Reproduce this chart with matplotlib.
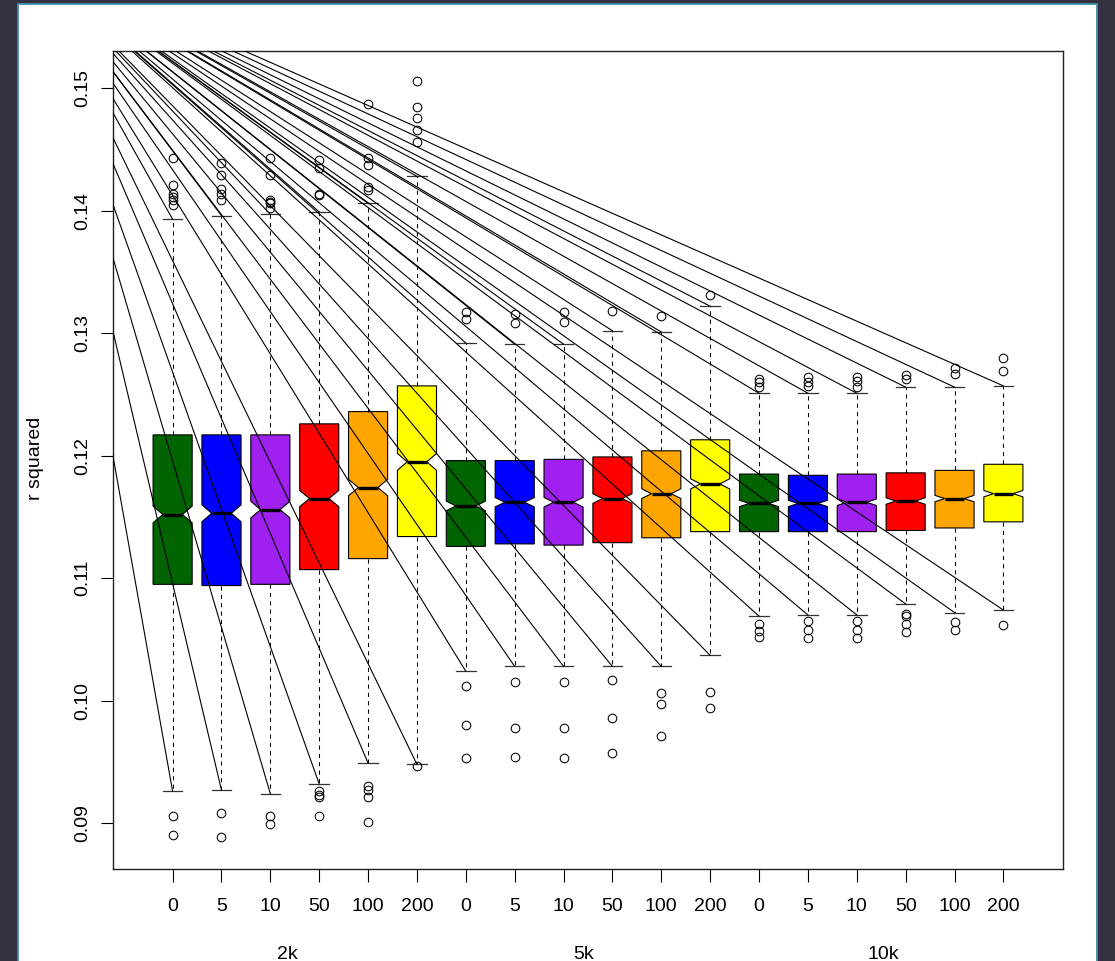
#!/usr/bin/env python

import numpy as np
import matplotlib
matplotlib.use("Agg")
import matplotlib.pyplot as plt
from matplotlib.patches import Rectangle

plt.rcParams['font.family'] = ['Liberation Sans', 'DejaVu Sans']

# r squared summaries for each run, 2k / 5k / 10k groups of six
sizes = ["2k", "5k", "10k"]
params = ["0", "5", "10", "50", "100", "200"]
colours = ["darkgreen", "blue", "#A020F0", "red", "orange", "yellow"]

upper_whisker = [0.1393, 0.1396, 0.1397, 0.1399, 0.1406, 0.1428,
                 0.1292, 0.1291, 0.1291, 0.1302, 0.1301, 0.1322,
                 0.1251, 0.1251, 0.1251, 0.1256, 0.1256, 0.1257]
q3 = [0.1217, 0.1217, 0.1217, 0.1226, 0.1236, 0.1257,
      0.1196, 0.1196, 0.1197, 0.1199, 0.1204, 0.1213,
      0.1185, 0.1184, 0.1185, 0.1186, 0.1188, 0.1193]
medians = [0.1152, 0.1153, 0.1156, 0.1165, 0.1174, 0.1195,
           0.1159, 0.1162, 0.1162, 0.1165, 0.1169, 0.1177,
           0.1161, 0.1161, 0.1162, 0.1163, 0.1165, 0.1169]
q1 = [0.1095, 0.1094, 0.1095, 0.1107, 0.1116, 0.1134,
      0.1126, 0.1128, 0.1127, 0.1129, 0.1133, 0.1138,
      0.1138, 0.1138, 0.1138, 0.1139, 0.1141, 0.1146]
lower_whisker = [0.0926, 0.0927, 0.0924, 0.0932, 0.0949, 0.0948,
                 0.1024, 0.1028, 0.1028, 0.1028, 0.1028, 0.1037,
                 0.1069, 0.1070, 0.1070, 0.1079, 0.1072, 0.1074]

outliers = [
    [0.1443, 0.1421, 0.1414, 0.1411, 0.1409, 0.1405, 0.0906, 0.0890],
    [0.1439, 0.1429, 0.1418, 0.1414, 0.1409, 0.0908, 0.0889],
    [0.1443, 0.1429, 0.1409, 0.1407, 0.1406, 0.1402, 0.0906, 0.0899],
    [0.1441, 0.1435, 0.1414, 0.1413, 0.0926, 0.0923, 0.0921, 0.0906],
    [0.1487, 0.1443, 0.1437, 0.1419, 0.1417, 0.0930, 0.0927, 0.0921, 0.0901],
    [0.1506, 0.1485, 0.1476, 0.1466, 0.1456, 0.0947],
    [0.1317, 0.1312, 0.1012, 0.0980, 0.0953],
    [0.1316, 0.1308, 0.1015, 0.0978, 0.0954],
    [0.1317, 0.1309, 0.1015, 0.0978, 0.0953],
    [0.1318, 0.1017, 0.0986, 0.0957],
    [0.1314, 0.1006, 0.0997, 0.0971],
    [0.1331, 0.1007, 0.0994],
    [0.1263, 0.1260, 0.1256, 0.1063, 0.1057, 0.1052],
    [0.1264, 0.1260, 0.1257, 0.1065, 0.1058, 0.1051],
    [0.1264, 0.1261, 0.1256, 0.1065, 0.1058, 0.1051],
    [0.1266, 0.1263, 0.1071, 0.1069, 0.1063, 0.1056],
    [0.1272, 0.1267, 0.1064, 0.1058],
    [0.1280, 0.1269, 0.1062],
]

n_obs = 800                       # replicates per run, for the notch
ray_origin = (-2.05, 0.161)       # common start point of the guide rays

W, H = 1115, 961


def MakeStats():
    stats = []
    for i in range(len(medians)):
        iqr = q3[i] - q1[i]
        half = 1.58 * iqr / np.sqrt(n_obs)
        stats.append(dict(med=medians[i], q1=q1[i], q3=q3[i],
                          whislo=lower_whisker[i], whishi=upper_whisker[i],
                          cilo=medians[i] - half, cihi=medians[i] + half,
                          fliers=outliers[i]))
    return stats


def main():
    fig = plt.figure(figsize=(W / 100.0, H / 100.0), dpi=100, facecolor='#323041')
    fig.patches.append(Rectangle((18.0 / W, -0.01), (1097.0 - 18) / W, 1.0 - 4.0 / H + 0.01,
                                 transform=fig.transFigure, facecolor='white',
                                 edgecolor='#3f8fae', lw=1.3, zorder=-10))

    ax = fig.add_axes([113.0 / W, (H - 869.0) / H, 950.0 / W, (869.0 - 50.7) / H])

    positions = np.arange(1, len(medians) + 1)
    bp = ax.bxp(MakeStats(), positions=positions, widths=0.8, shownotches=True,
                patch_artist=True, manage_ticks=False,
                boxprops=dict(edgecolor='black', lw=0.8),
                whiskerprops=dict(color='black', lw=0.75, linestyle=(0, (4, 4))),
                capprops=dict(color='#333333', lw=0.9),
                medianprops=dict(color='black', lw=2.4, solid_capstyle='butt'),
                flierprops=dict(marker='o', markerfacecolor='none',
                                markeredgecolor='black', markersize=6.2,
                                markeredgewidth=0.75, linestyle='none'))
    for k, box in enumerate(bp['boxes']):
        box.set_facecolor(colours[k % len(colours)])

    # rays from one point out to every whisker end
    x0, y0 = ray_origin
    for xi, lo, hi in zip(positions, lower_whisker, upper_whisker):
        for yi in (lo, hi):
            ax.plot([x0, xi], [y0, yi], color='black', lw=0.8, zorder=5)

    ax.set_xlim(-0.22, 19.22)
    ax.set_ylim(0.15 - (869 - 88.2) / 12250.0, 0.15 + (88.2 - 50.7) / 12250.0)

    ax.set_xticks(positions)
    ax.set_xticklabels(params * len(sizes))
    yticks = [0.09, 0.10, 0.11, 0.12, 0.13, 0.14, 0.15]
    ax.set_yticks(yticks)
    ax.set_yticklabels(["%.2f" % v for v in yticks], rotation=90, va='center')
    ax.tick_params(axis='both', direction='out', length=9, width=0.8,
                   labelsize=14, color='black')
    ax.tick_params(axis='x', pad=12)
    ax.tick_params(axis='y', pad=6.5)
    for sp in ax.spines.values():
        sp.set_linewidth(1.0)
        sp.set_color('#222222')

    for label, xpos in zip(sizes, [3.35, 9.4, 15.55]):
        ax.text(xpos, -0.105, label, transform=ax.get_xaxis_transform(),
                ha='center', va='center', fontsize=14)

    fig.text(35.0 / W, 1.0 - 458.0 / H, "r squared", rotation=90,
             ha='center', va='center', fontsize=14)

    fig.savefig("out.png", dpi=100, facecolor=fig.get_facecolor())


if __name__ == '__main__':
    main()
